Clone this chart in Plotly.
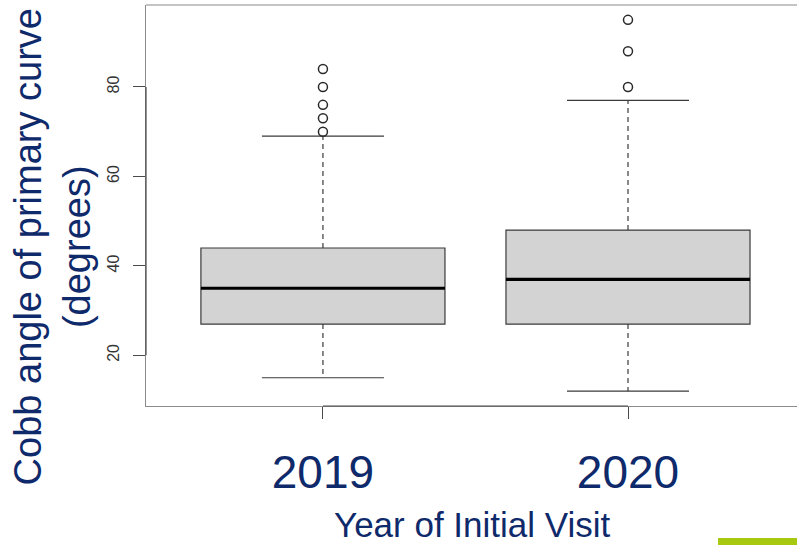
import plotly.graph_objects as go

# Cobb angle (degrees) of the primary curve at initial visit, summarised per year
years = ["2019", "2020"]
positions = [1, 2]
lower_whisker = [15, 12]
q1 = [27, 27]
median = [35, 37]
q3 = [44, 48]
upper_whisker = [69, 77]
outliers = [[70, 73, 76, 80, 84], [80, 88, 95]]

NAVY = "#0f2a6b"
BOX_W = 0.8
STAPLE_W = 0.4
X_RANGE = [0.42, 2.554]
Y_RANGE = [8.68, 98.32]

fig = go.Figure()

# box bodies (interquartile range)
for i, yr in enumerate(years):
    fig.add_trace(go.Box(
        x=[positions[i]], q1=[q1[i]], median=[median[i]], q3=[q3[i]],
        lowerfence=[q1[i]], upperfence=[q3[i]], width=BOX_W,
        fillcolor="#d3d3d3", line=dict(color="#3a3a3a", width=1.2),
        whiskerwidth=0, boxpoints=False, hoverinfo="skip", showlegend=False,
        name=yr,
    ))

for i, yr in enumerate(years):
    p = positions[i]
    # dashed whiskers
    for a, b in ((q3[i], upper_whisker[i]), (q1[i], lower_whisker[i])):
        fig.add_trace(go.Scatter(
            x=[p, p], y=[a, b], mode="lines",
            line=dict(color="#3a3a3a", width=1.2, dash="5px,4px"),
            hoverinfo="skip", showlegend=False,
        ))
    # staples
    for w in (upper_whisker[i], lower_whisker[i]):
        fig.add_trace(go.Scatter(
            x=[p - STAPLE_W / 2, p + STAPLE_W / 2], y=[w, w], mode="lines",
            line=dict(color="#3a3a3a", width=1.2),
            hoverinfo="skip", showlegend=False,
        ))
    # thick median bar
    fig.add_trace(go.Scatter(
        x=[p - BOX_W / 2, p + BOX_W / 2], y=[median[i], median[i]], mode="lines",
        line=dict(color="#000000", width=3.2),
        hoverinfo="skip", showlegend=False,
    ))
    # outliers
    fig.add_trace(go.Scatter(
        x=[p] * len(outliers[i]), y=outliers[i], mode="markers",
        marker=dict(symbol="circle-open", size=9, color="#2a2a2a",
                    line=dict(width=1.5, color="#2a2a2a")),
        cliponaxis=False, hoverinfo="skip", showlegend=False,
    ))

# axis segments spanning the tick range, in paper coordinates
xs = lambda v: (v - X_RANGE[0]) / (X_RANGE[1] - X_RANGE[0])
ys = lambda v: (v - Y_RANGE[0]) / (Y_RANGE[1] - Y_RANGE[0])
shapes = [
    dict(type="line", xref="paper", yref="paper", x0=0, x1=1, y0=1, y1=1,
         line=dict(color="#8a8a8a", width=1.2)),
    dict(type="line", xref="paper", yref="paper", x0=xs(1), x1=xs(2), y0=0, y1=0,
         line=dict(color="#4a4a4a", width=1.2)),
    dict(type="line", xref="paper", yref="paper", x0=0, x1=0, y0=ys(20), y1=ys(80),
         line=dict(color="#4a4a4a", width=1.2)),
    # accent bar in the lower right corner
    dict(type="rect", xref="paper", yref="paper", x0=0.8787, x1=1.0,
         y0=-0.3466, y1=-0.329, line=dict(width=0), fillcolor="#a6c80f"),
]

fig.update_layout(
    width=797, height=545,
    margin=dict(l=146, r=0, t=5, b=139),
    paper_bgcolor="white", plot_bgcolor="white",
    font=dict(family="Liberation Sans, Arial, sans-serif"),
    shapes=shapes,
    xaxis=dict(
        range=X_RANGE, tickvals=positions, ticktext=years,
        showgrid=False, zeroline=False,
        showline=True, linecolor="#8a8a8a", linewidth=1.2,
        ticks="outside", ticklen=12, tickcolor="#4a4a4a", tickwidth=1.2,
        tickfont=dict(size=46, color=NAVY), ticklabelstandoff=14,
    ),
    yaxis=dict(
        range=Y_RANGE, tickvals=[20, 40, 60, 80],
        showgrid=False, zeroline=False,
        showline=True, linecolor="#8a8a8a", linewidth=1.2,
        ticks="outside", ticklen=12, tickcolor="#4a4a4a", tickwidth=1.2,
        tickangle=-90, tickfont=dict(size=16, color="#333333"),
        ticklabelstandoff=8,
    ),
    annotations=[
        dict(text="Cobb angle of primary curve<br>(degrees)", textangle=-90,
             xref="paper", yref="paper", x=-0.1444, y=0.398,
             xanchor="center", yanchor="middle", showarrow=False,
             font=dict(size=38, color=NAVY)),
        dict(text="Year of Initial Visit",
             xref="paper", yref="paper", x=0.502, y=-0.3466,
             xanchor="center", yanchor="bottom", showarrow=False,
             borderpad=0, font=dict(size=35, color=NAVY)),
    ],
)

fig.write_html("out.html")
